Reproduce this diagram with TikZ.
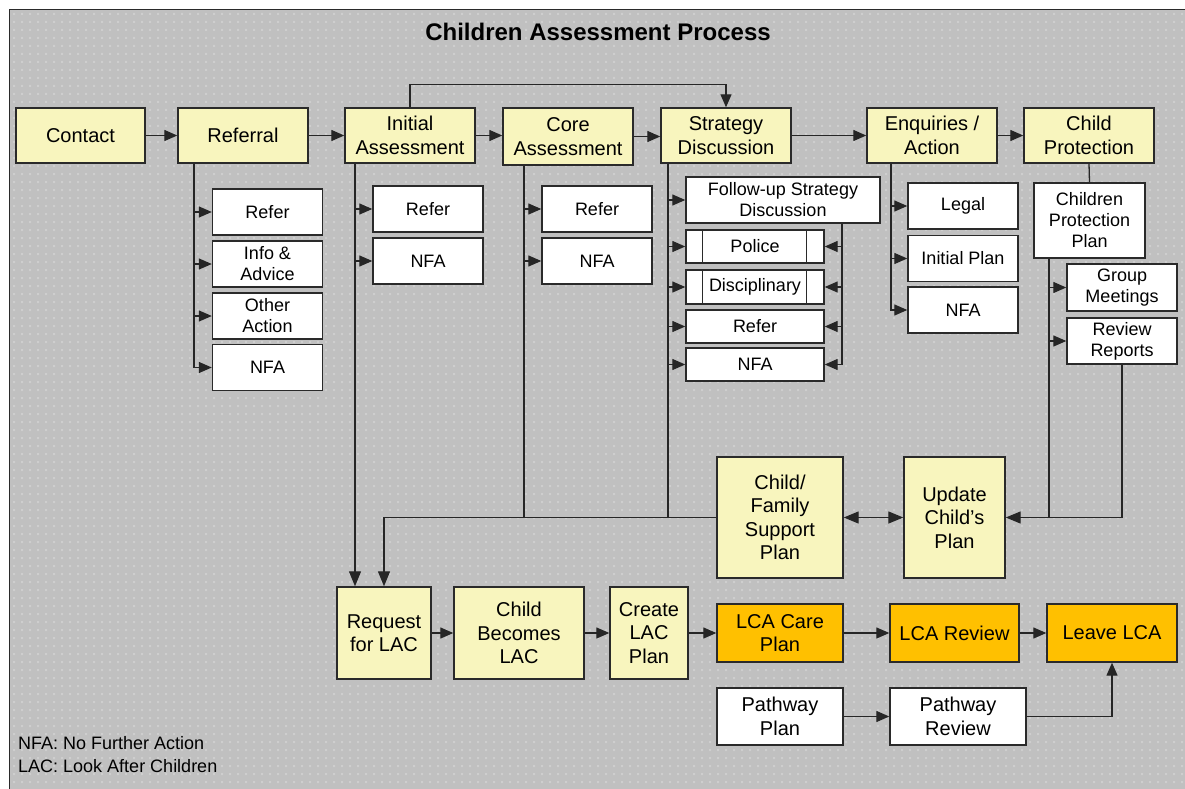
\documentclass[tikz,border=0pt]{standalone}
\usepackage{fontspec}
\setmainfont{Liberation Sans}
\usetikzlibrary{arrows.meta}

\definecolor{bggray}{HTML}{C0C0C0}
\definecolor{dotgray}{HTML}{CECECE}
\definecolor{stepyellow}{HTML}{F8F5BE}
\definecolor{careorange}{HTML}{FFC000}
\definecolor{edgegray}{HTML}{2A2A2A}

\tikzset{
  box/.style={draw=edgegray, line width=1.4pt, rectangle, inner sep=2pt, align=center,
    font=\fontsize{20}{23.5}\selectfont},
  mainbox/.style={box, fill=stepyellow},
  carebox/.style={box, fill=careorange},
  optbox/.style={box, fill=white, font=\fontsize{18}{21}\selectfont},
  plainbox/.style={box, fill=white},
  conn/.style={draw=black!85, line width=1.3pt},
  arr/.style={conn, -{Triangle[length=13pt,width=11pt]}},
  bigarr/.style={conn, -{Triangle[length=15pt,width=12pt]}},
  dblarr/.style={conn, {Triangle[length=15pt,width=12pt]}-{Triangle[length=15pt,width=12pt]}},
}

\begin{document}
\begin{tikzpicture}[x=1pt, y=-1pt]
\useasboundingbox (0,0) rectangle (1185,789);

% canvas with a light dot grid, one row of dots per path
\fill[bggray] (9.5,9.5) rectangle (1185,789);
\foreach \gy in {13,21,...,787}
  \fill[dotgray] foreach \gx in {13,21,...,1181} {(\gx,\gy) rectangle ++(2,2)};
\draw[edgegray, line width=1.5pt] (9.5,789) -- (9.5,9.5) -- (1185,9.5);

\node[font=\fontsize{24}{28}\selectfont\bfseries] (title) at (598,32) {Children Assessment Process};

% main stages
\node[mainbox, minimum width=129, minimum height=55] (contact)   at (80.5,135.5) {Contact};
\node[mainbox, minimum width=130, minimum height=55] (referral)  at (243,135.5)  {Referral};
\node[mainbox, minimum width=130, minimum height=55] (initial)   at (410,135.5)  {Initial\\Assessment};
\node[mainbox, minimum width=130, minimum height=57] (core)      at (568,136.5)  {Core\\Assessment};
\node[mainbox, minimum width=130, minimum height=55] (strategy)  at (726,135.5)  {Strategy\\Discussion};
\node[mainbox, minimum width=130, minimum height=55] (enquiries) at (932,135.5)  {Enquiries /\\Action};
\node[mainbox, minimum width=130, minimum height=55] (childprot) at (1089,135.5) {Child\\Protection};

% referral outcomes
\node[optbox, minimum width=110, minimum height=46] (r1) at (267.5,212)   {Refer};
\node[optbox, minimum width=110, minimum height=46] (r2) at (267.5,264)   {Info \&\\Advice};
\node[optbox, minimum width=110, minimum height=46] (r3) at (267.5,316)   {Other\\Action};
\node[optbox, minimum width=110, minimum height=46] (r4) at (267.5,367.5) {NFA};

% initial assessment outcomes
\node[optbox, minimum width=110, minimum height=46] (ia1) at (428,209) {Refer};
\node[optbox, minimum width=110, minimum height=46] (ia2) at (428,261) {NFA};

% core assessment outcomes
\node[optbox, minimum width=110, minimum height=46] (ca1) at (597,209) {Refer};
\node[optbox, minimum width=110, minimum height=46] (ca2) at (597,261) {NFA};

% strategy discussion outcomes
\node[optbox, minimum width=194, minimum height=46] (fu)     at (783,200)   {Follow-up Strategy\\Discussion};
\node[optbox, minimum width=138, minimum height=33] (police) at (755,246.5) {Police};
\node[optbox, minimum width=138, minimum height=34] (disc)   at (755,287)   {Disciplinary};
\node[optbox, minimum width=138, minimum height=33] (sref)   at (755,326.5) {Refer};
\node[optbox, minimum width=138, minimum height=33] (snfa)   at (755,364.5) {NFA};
\foreach \n in {police,disc}{
  \draw[edgegray, line width=1.2pt] ([xshift=17]\n.north west) -- ([xshift=17]\n.south west);
  \draw[edgegray, line width=1.2pt] ([xshift=-18]\n.north east) -- ([xshift=-18]\n.south east);
}

% enquiries outcomes
\node[optbox, minimum width=110, minimum height=46] (legal) at (963,206)   {Legal};
\node[optbox, minimum width=110, minimum height=46] (iplan) at (963,258.5) {Initial Plan};
\node[optbox, minimum width=110, minimum height=46] (enfa)  at (963,310)   {NFA};

% child protection
\node[optbox, minimum width=111, minimum height=75] (cpp) at (1089.5,220.5) {Children\\Protection\\Plan};
\node[optbox, minimum width=110, minimum height=47] (gm)  at (1122,287.5) {Group\\Meetings};
\node[optbox, minimum width=110, minimum height=46] (rr)  at (1122,341)   {Review\\Reports};

% plans
\node[mainbox, minimum width=126, minimum height=121] (cfsp) at (780,517.5)   {Child/\\Family\\Support\\Plan};
\node[mainbox, minimum width=101, minimum height=121] (ucp)  at (954.5,517.5) {Update\\Child’s\\Plan};

% looked-after children track
\node[mainbox, minimum width=94,  minimum height=92] (request) at (384,633) {Request\\for LAC};
\node[mainbox, minimum width=130, minimum height=92] (becomes) at (519,633) {Child\\Becomes\\LAC};
\node[mainbox, minimum width=78,  minimum height=92] (create)  at (649,633) {Create\\LAC\\Plan};
\node[carebox, minimum width=126, minimum height=58] (lcacare)   at (780,633)    {LCA Care\\Plan};
\node[carebox, minimum width=129, minimum height=58] (lcareview) at (954.5,633)  {LCA Review};
\node[carebox, minimum width=130, minimum height=58] (leave)     at (1112,633)   {Leave LCA};
\node[plainbox, minimum width=126, minimum height=57] (pplan)   at (780,716.5) {Pathway\\Plan};
\node[plainbox, minimum width=136, minimum height=57] (preview) at (958,716.5) {Pathway\\Review};

% legend
\node[anchor=west, align=left, inner sep=0, font=\fontsize{18}{23}\selectfont] (legend) at (18,755)
  {NFA: No Further Action\\LAC: Look After Children};

% top row flow
\draw[arr] (contact.east) -- (referral.west);
\draw[arr] (referral.east) -- (initial.west);
\draw[arr] (initial.east) -- (initial.east -| core.west);
\draw[arr] (core.east) -- (core.east -| strategy.west);
\draw[arr] (strategy.east) -- (enquiries.west);
\draw[arr] (enquiries.east) -- (childprot.west);
\draw[arr] (initial.north) -- ++(0,-23) -| (strategy.north);

% referral branches
\coordinate (rbus) at ([xshift=-49]referral.south);
\draw[arr] (rbus) |- (r4.west);
\foreach \n in {r1,r2,r3} \draw[arr] (rbus |- \n.west) -- (\n.west);

% initial assessment branches
\coordinate (ibus) at ([xshift=-55]initial.south);
\draw[bigarr] (ibus) -- (ibus |- request.north);
\foreach \n in {ia1,ia2} \draw[arr] (ibus |- \n.west) -- (\n.west);

% core assessment branches
\coordinate (cbus) at ([xshift=-44]core.south);
\draw[conn] (cbus) -- (cbus |- cfsp.west);
\foreach \n in {ca1,ca2} \draw[arr] (cbus |- \n.west) -- (\n.west);

% strategy discussion branches
\coordinate (sbus) at ([xshift=-58]strategy.south);
\draw[conn] (sbus) -- (sbus |- cfsp.west);
\foreach \n in {fu,police,disc,sref,snfa} \draw[arr] (sbus |- \n.west) -- (\n.west);
\coordinate (fbus) at ([xshift=59]fu.south);
\draw[arr] (fbus) |- (snfa.east);
\foreach \n in {police,disc,sref} \draw[arr] (fbus |- \n.east) -- (\n.east);

% enquiries branches
\coordinate (ebus) at ([xshift=-41]enquiries.south);
\draw[arr] (ebus) |- (enfa.west);
\foreach \n in {legal,iplan} \draw[arr] (ebus |- \n.west) -- (\n.west);

% child protection plan
\draw[conn] (childprot.south) -- (cpp.north);
\coordinate (pbus) at ([xshift=-40.5]cpp.south);
\draw[conn] (pbus) -- (pbus |- ucp.east);
\foreach \n in {gm,rr} \draw[arr] (pbus |- \n.west) -- (\n.west);
\draw[bigarr] (rr.south) |- (ucp.east);

% plans to LAC request
\draw[dblarr] (cfsp.east) -- (ucp.west);
\draw[bigarr] (cfsp.west) -| (request.north);

% LAC track
\draw[arr] (request.east) -- (becomes.west);
\draw[arr] (becomes.east) -- (create.west);
\draw[arr] (create.east) -- (lcacare.west);
\draw[arr] (lcacare.east) -- (lcareview.west);
\draw[arr] (lcareview.east) -- (leave.west);
\draw[arr] (pplan.east) -- (preview.west);
\draw[arr] (preview.east) -| (leave.south);
\end{tikzpicture}
\end{document}
